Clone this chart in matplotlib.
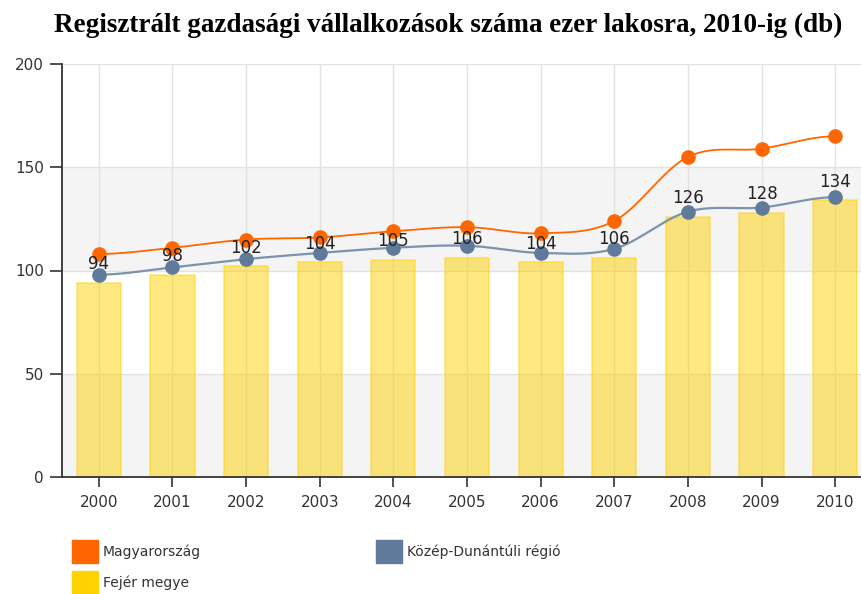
import numpy as np
import matplotlib
matplotlib.use("Agg")
import matplotlib.pyplot as plt
from matplotlib.patches import Patch

# --- data --------------------------------------------------------------------
YEARS = ["2000", "2001", "2002", "2003", "2004", "2005",
         "2006", "2007", "2008", "2009", "2010"]
MAGYAR = [108, 111, 115, 116, 119, 121, 118, 124, 155, 159, 165]
KOZEP = [98, 101.5, 105.5, 108.5, 111, 112, 108.5, 110.5, 128.5, 130.5, 135.5]
FEJER = [94, 98, 102, 104, 105, 106, 104, 106, 126, 128, 134]

TITLE = "Regisztrált gazdasági vállalkozások száma ezer lakosra, 2010-ig (db)"
LABELS = ["Magyarország", "Fejér megye", "Közép-Dunántúli régió"]

ORANGE = "#FF6600"
BLUE = "#5F7A9A"
BLUE_LINE = "#7C93AE"
YELLOW = "#FFD200"


def spline(xs, ys, n=30):
    """Catmull-Rom style cubic Hermite through the points."""
    xs = np.asarray(xs, float)
    ys = np.asarray(ys, float)
    m = np.zeros_like(ys)
    m[1:-1] = (ys[2:] - ys[:-2]) / 2
    ox, oy = [], []
    for i in range(len(xs) - 1):
        t = np.linspace(0, 1, n)
        h00 = 2 * t**3 - 3 * t**2 + 1
        h10 = t**3 - 2 * t**2 + t
        h01 = -2 * t**3 + 3 * t**2
        h11 = t**3 - t**2
        ox.append(xs[i] + t * (xs[i + 1] - xs[i]))
        oy.append(h00 * ys[i] + h10 * m[i] + h01 * ys[i + 1] + h11 * m[i + 1])
    return np.concatenate(ox), np.concatenate(oy)


def main():
    fig = plt.figure(figsize=(8.61, 5.94), dpi=100)
    ax = fig.add_axes([62 / 861, 1 - 477 / 594, (872 - 62) / 861, (477 - 64) / 594])

    x = np.arange(len(YEARS))

    # alternating background bands
    for lo in (0, 100):
        ax.axhspan(lo, lo + 50, color="#F4F4F4", zorder=0, lw=0)
    for y in (50, 100, 150, 200):
        ax.axhline(y, color="#E2E2E2", lw=1, zorder=0.5)
    for xi in x:
        ax.axvline(xi, color="#E2E2E2", lw=1, zorder=0.5)

    ax.bar(x, FEJER, width=0.6, color=YELLOW, alpha=0.5, edgecolor=YELLOW,
           linewidth=1.2, zorder=2)

    sx, sy = spline(x, MAGYAR)
    ax.plot(sx, sy, color=ORANGE, lw=1.3, zorder=3)
    ax.plot(x, MAGYAR, "o", color=ORANGE, ms=9.5, zorder=4)

    sx, sy = spline(x, KOZEP)
    ax.plot(sx, sy, color=BLUE_LINE, lw=1.6, zorder=3)
    ax.plot(x, KOZEP, "o", color=BLUE, ms=9.5, zorder=4)

    for xi, v in zip(x, FEJER):
        ax.annotate(str(v), (xi, v), xytext=(0, 7), textcoords="offset points",
                    ha="center", va="bottom", fontsize=12, color="#222222", zorder=5)

    ax.set_xlim(-0.5, len(YEARS) - 0.5)
    ax.set_ylim(0, 200)
    ax.set_yticks([0, 50, 100, 150, 200])
    ax.set_xticks(x)
    ax.set_xticklabels(YEARS)
    ax.tick_params(axis="both", labelsize=11, labelcolor="#333333", color="#333333")
    ax.tick_params(axis="y", length=9, width=1.2, pad=4)
    ax.tick_params(axis="x", length=7, width=1.2, pad=6)
    for side in ("top", "right"):
        ax.spines[side].set_visible(False)
    for side in ("left", "bottom"):
        ax.spines[side].set_color("#333333")
        ax.spines[side].set_linewidth(1.3)

    fig.text(448 / 861, 1 - 25 / 594, TITLE, ha="center", va="center",
             fontsize=19.5, fontweight="bold", family="Liberation Serif")

    handles = [Patch(color=ORANGE), Patch(color=YELLOW), Patch(color=BLUE)]
    fig.legend(handles, LABELS, ncol=2, loc="upper left",
               bbox_to_anchor=(72 / 861, 1 - 540 / 594), frameon=False,
               borderpad=0, borderaxespad=0,
               fontsize=10, handlelength=1.87, handleheight=2.2,
               handletextpad=0.35, columnspacing=12.6, labelspacing=0.55,
               labelcolor="#333333")

    fig.savefig("out.png", dpi=100)


if __name__ == "__main__":
    main()
